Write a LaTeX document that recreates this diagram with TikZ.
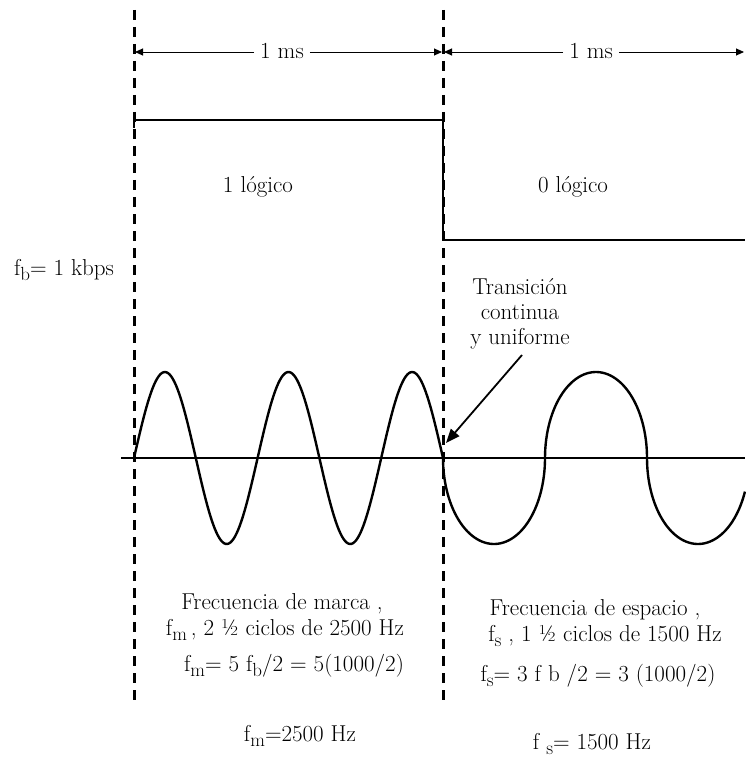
\documentclass[tikz,border=0pt]{standalone}
\usetikzlibrary{arrows.meta}
\newcommand{\sbx}[1]{\raisebox{-0.5ex}{\fontsize{19}{19}\selectfont #1}}
\begin{document}
\begin{tikzpicture}[x=1pt,y=-1pt,
  lbl/.style={font=\fontsize{23}{25}\selectfont, inner sep=0pt, align=center},
  dashv/.style={line width=3pt, dash pattern=on 10pt off 7pt},
  dimtip/.style={line width=0.9pt, -{Triangle[length=8pt,width=7pt]}},
  thick2/.style={line width=2.2pt},
  wave/.style={line width=2.4pt, line join=round}]
\useasboundingbox (0,0) rectangle (745,759);
% dashed boundaries
\coordinate (d1t) at (134,10); \coordinate (d1b) at (134,700);
\coordinate (d2t) at (443,10); \coordinate (d2b) at (443,700);
\draw[dashv] (d1t) -- (d1b);
\draw[dashv] (d2t) -- (d2b);
% dimension arrows
\coordinate (a1) at (135,52); \coordinate (a2l) at (442,52);
\coordinate (a2r) at (444,52); \coordinate (a3) at (744,52);
\node[lbl, inner xsep=6pt] (ms1) at (282,51) {1 ms};
\node[lbl, inner xsep=6pt] (ms2) at (591,51) {1 ms};
\draw[dimtip] (ms1.west |- a1) -- (a1);
\draw[dimtip] (ms1.east |- a1) -- (a2l);
\draw[dimtip] (ms2.west |- a1) -- (a2r);
\draw[dimtip] (ms2.east |- a1) -- (a3);
% square wave
\draw[thick2] (134,128) -- (134,120) -- (443,120) -- (443,240) -- (745,240);
\node[lbl] (l1) at (258,187) {1 lógico};
\node[lbl] (l0) at (573,187) {0 lógico};
\node[lbl] (fb) at (64,270) {f\sbx{b}= 1 kbps};
% axis
\draw[line width=2.5pt] (121,458) -- (745,458);
% FSK waveform
\draw[wave] plot[domain=0:309, samples=200] ({134+\x},{458-86*sin(\x*2.9126)});
\draw[wave] plot[domain=180:0, samples=60] ({494+51*cos(\x)},{458+86*sin(\x)})
  -- plot[domain=180:360, samples=60] ({596+51*cos(\x)},{458+86*sin(\x)})
  -- plot[domain=180:23, samples=60] ({698+51*cos(\x)},{458+86*sin(\x)});
% transition label and arrow
\node[lbl] (tr) at (520,314) {Transición\\continua\\y uniforme};
\coordinate (ts) at (522,355); \coordinate (tt) at (446,443);
\draw[line width=1.8pt, -{Triangle[length=14pt,width=11pt]}] (ts) -- (tt);
% bottom texts
\node[lbl] (m1) at (282,604) {Frecuencia de marca ,};
\node[lbl] (m2) at (285,630) {f\sbx{m}\,, 2 ½ ciclos de 2500 Hz};
\node[lbl] (m3) at (294,666) {f\sbx{m}= 5 f\sbx{b}/2 = 5(1000/2)};
\node[lbl] (m4) at (300,736) {f\sbx{m}=2500 Hz};
\node[lbl] (s1) at (595,610) {Frecuencia de espacio ,};
\node[lbl] (s2) at (605,636) {f\sbx{s} , 1 ½ ciclos de 1500 Hz};
\node[lbl] (s3) at (598,676) {f\sbx{s}= 3 f b /2 = 3 (1000/2)};
\node[lbl] (s4) at (592,744) {f \sbx{s}= 1500 Hz};
\end{tikzpicture}
\end{document}
